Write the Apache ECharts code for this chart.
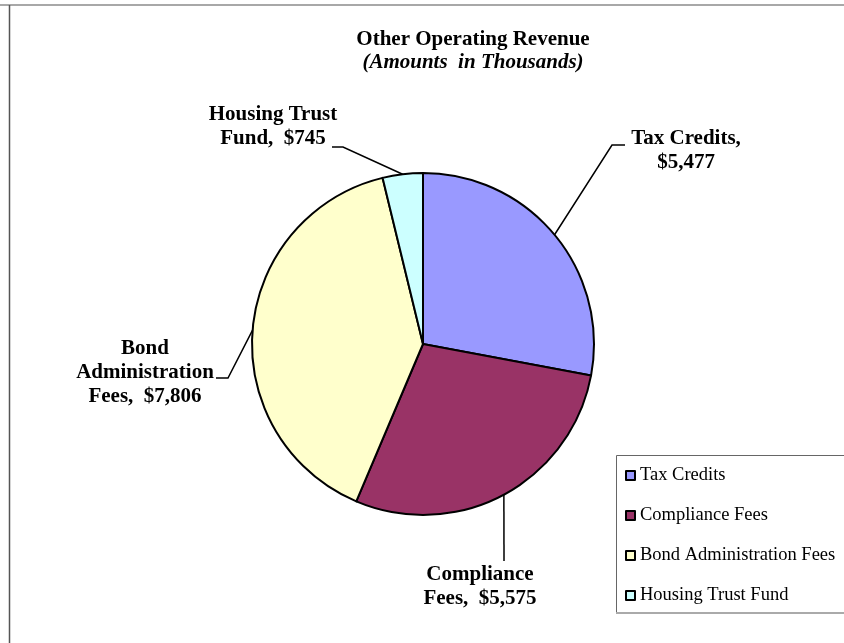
<!DOCTYPE html>
<html>
<head>
<meta charset="utf-8">
<script src="https://cdn.jsdelivr.net/npm/echarts@6/dist/echarts.min.js"></script>
<style>
  html, body { margin: 0; padding: 0; background: #fff; }
  #chart { width: 844px; height: 643px; }
</style>
</head>
<body>
<div id="chart"></div>
<script>
// ---- data ----
const categories = ['Tax Credits', 'Compliance Fees', 'Bond Administration Fees', 'Housing Trust Fund'];
const values = [5477, 5575, 7806, 745];
const labelNames = ['Tax Credits,', 'Compliance\nFees,', 'Bond\nAdministration\nFees,', 'Housing Trust\nFund,'];
const labelSeparators = ['\n', '  ', '  ', '  '];
const colors = ['#9999FF', '#993366', '#FFFFCC', '#CCFFFF'];
const titleText = 'Other Operating Revenue';
const subtitleText = '(Amounts  in Thousands)';

// ---- layout (positions of labels and their leader elbows) ----
const FONT = '"Liberation Serif", "Times New Roman", serif';
const labelLayouts = [
  { x: 686, y: 151, elbow: [612, 145], end: [625, 145] },
  { x: 480, y: 587, elbow: [504, 561], end: [504, 561] },
  { x: 145, y: 373, elbow: [228, 378], end: [216, 378] },
  { x: 273, y: 127, elbow: [343, 147], end: [332, 147] }
];
const pieCenter = [423, 344];
const pieRadius = 171;

function fmtMoney(v) { return '$' + v.toLocaleString('en-US'); }

const chart = echarts.init(document.getElementById('chart'), null, { renderer: 'canvas' });

const option = {
  animation: false,
  backgroundColor: '#fff',
  color: colors,
  legend: {
    orient: 'vertical',
    left: 625,
    top: 466,
    itemWidth: 9,
    itemHeight: 9,
    itemGap: 21,
    padding: 0,
    icon: 'rect',
    itemStyle: { borderColor: '#000', borderWidth: 2 },
    textStyle: { fontFamily: FONT, fontSize: 18.5, color: '#000' },
    selectedMode: false,
    data: categories
  },
  graphic: [
    { type: 'line', shape: { x1: 0, y1: 5, x2: 844, y2: 5 }, style: { stroke: '#a8a8a8', lineWidth: 2 } },
    { type: 'line', shape: { x1: 9.5, y1: 5, x2: 9.5, y2: 643 }, style: { stroke: '#555', lineWidth: 1.5 } },
    { type: 'rect', shape: { x: 616.5, y: 455.5, width: 260, height: 157 }, style: { fill: 'none', stroke: '#666', lineWidth: 1 } },
    { type: 'line', shape: { x1: 616, y1: 613, x2: 844, y2: 613 }, style: { stroke: '#aaa', lineWidth: 2 } },
    { type: 'text', style: { x: 473, y: 40, text: titleText, textAlign: 'center', textVerticalAlign: 'middle', font: 'bold 21px ' + FONT, fill: '#000' } },
    { type: 'text', style: { x: 473, y: 63, text: subtitleText, textAlign: 'center', textVerticalAlign: 'middle', font: 'italic bold 21px ' + FONT, fill: '#000' } }
  ],
  series: [{
    type: 'pie',
    center: pieCenter,
    radius: pieRadius,
    startAngle: 90,
    clockwise: true,
    avoidLabelOverlap: false,
    silent: true,
    itemStyle: { borderColor: '#000', borderWidth: 2 },
    label: {
      show: true,
      position: 'outside',
      fontFamily: FONT,
      fontSize: 21,
      fontWeight: 'bold',
      lineHeight: 24,
      color: '#000',
      align: 'center',
      formatter: function (p) {
        return labelNames[p.dataIndex] + labelSeparators[p.dataIndex] + fmtMoney(p.value);
      }
    },
    labelLine: {
      show: true,
      length: 10,
      length2: 10,
      lineStyle: { color: '#000', width: 1.5 }
    },
    labelLayout: function (params) {
      const i = params.dataIndex;
      const L = labelLayouts[i];
      let p0;
      if (params.labelLinePoints && params.labelLinePoints[0]) {
        p0 = params.labelLinePoints[0];
      } else {
        const total = values.reduce((a, b) => a + b, 0);
        let before = 0;
        for (let k = 0; k < i; k++) before += values[k];
        const ang = (before + values[i] / 2) / total * 2 * Math.PI;
        p0 = [pieCenter[0] + pieRadius * Math.sin(ang), pieCenter[1] - pieRadius * Math.cos(ang)];
      }
      return {
        x: L.x,
        y: L.y,
        align: 'center',
        verticalAlign: 'middle',
        labelLinePoints: [p0, L.elbow, L.end]
      };
    },
    data: categories.map((c, i) => ({ name: c, value: values[i] }))
  }]
};

chart.setOption(option);
</script>
</body>
</html>
